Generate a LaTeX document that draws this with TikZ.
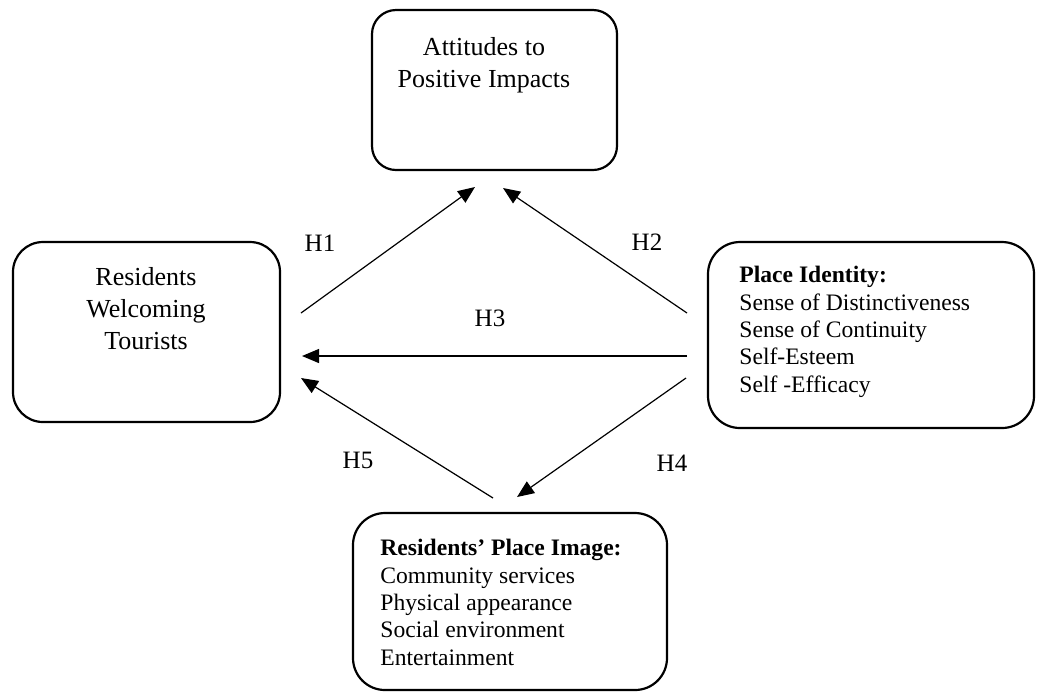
\documentclass[tikz,border=0pt]{standalone}
\usepackage{fontspec}
\setmainfont{Liberation Serif}
\usetikzlibrary{arrows.meta,positioning}
\tikzset{
  box/.style={draw, line width=1.1pt, rounded corners=16pt, inner sep=0pt},
  hyp/.style={-{Triangle[length=8.5pt,width=7pt]}, line width=0.6pt},
  bigtext/.style={font=\fontsize{13}{16}\selectfont, align=center, inner sep=0pt},
  listtext/.style={font=\fontsize{11.8}{13.7}\selectfont, align=left, inner sep=0pt},
  hlabel/.style={font=\fontsize{12.5}{14}\selectfont, inner sep=0pt}
}
\begin{document}
\begin{tikzpicture}[x=0.5pt,y=-0.5pt]
  \useasboundingbox (0,0) rectangle (1037,693);
  % boxes
  \node[box, rounded corners=12pt, minimum width=122.5pt, minimum height=80pt] (att) at (494.5,90) {};
  \node[box, rounded corners=15pt, minimum width=133.5pt, minimum height=90pt] (res) at (146.5,332) {};
  \node[box, minimum width=163pt, minimum height=93pt] (pid) at (871,335) {};
  \node[box, minimum width=157pt, minimum height=88.5pt] (rpi) at (510,601.5) {};
  % box texts
  \node[bigtext, anchor=north] (attTxt) at (484,37) {Attitudes to\\Positive Impacts};
  \node[bigtext, anchor=north] (resTxt) at (146,267) {Residents\\Welcoming\\Tourists};
  \node[listtext, anchor=north west] (pidTxt) at (739,266)
    {\textbf{Place Identity:}\\Sense of Distinctiveness\\Sense of Continuity\\Self-Esteem\\Self -Efficacy};
  \node[listtext, anchor=north west] (rpiTxt) at (380,539)
    {\textbf{Residents’ Place Image:}\\Community services\\Physical appearance\\Social environment\\Entertainment};
  % arrow ends
  \coordinate (h1a) at (301,313);
  \coordinate (h1b) at (475,187);
  \coordinate (h2a) at (687,313);
  \coordinate (h2b) at (503,188);
  \coordinate (h3a) at (687,356);
  \coordinate (h3b) at (302,356);
  \coordinate (h4a) at (686,378);
  \coordinate (h4b) at (517,497);
  \coordinate (h5a) at (493,498);
  \coordinate (h5b) at (301,378);
  \begin{scope}[hyp]
    \draw (h1a) to (h1b);
    \draw (h2a) to (h2b);
    \draw (h3a) to (h3b);
    \draw (h4a) to (h4b);
    \draw (h5a) to (h5b);
  \end{scope}
  % hypothesis labels
  \node[hlabel] (h1) at (320,243) {H1};
  \node[hlabel] (h2) at (647,242) {H2};
  \node[hlabel] (h3) at (490,318) {H3};
  \node[hlabel] (h4) at (672,463) {H4};
  \node[hlabel] (h5) at (358,460) {H5};
\end{tikzpicture}
\end{document}
